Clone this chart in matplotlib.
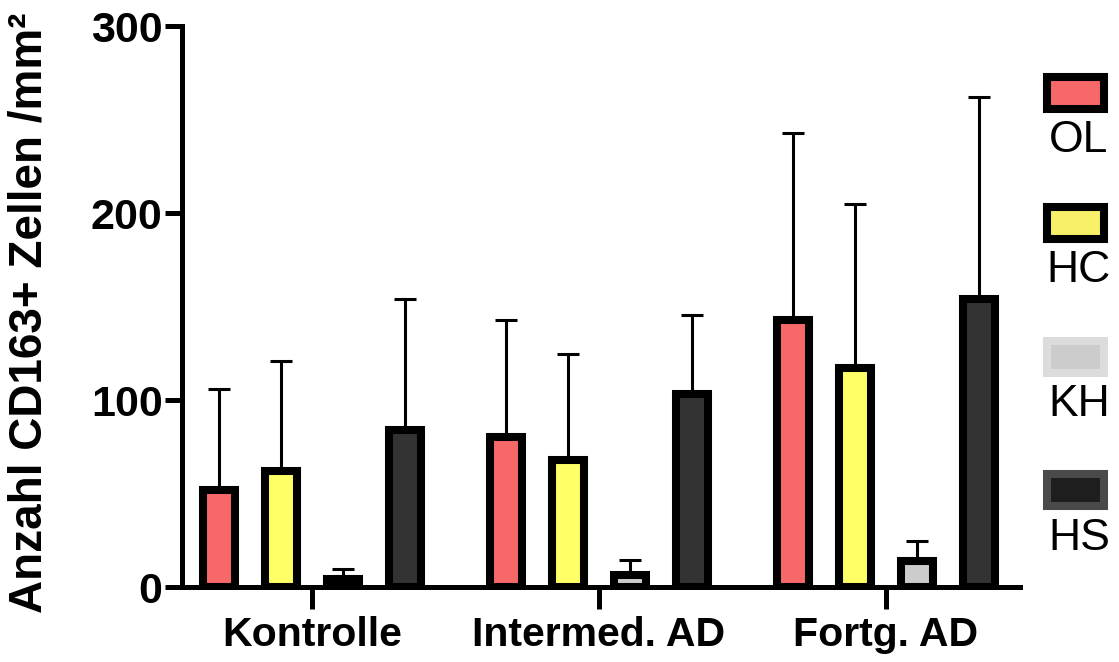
import matplotlib
matplotlib.use("Agg")
import matplotlib.pyplot as plt
from matplotlib.patches import Rectangle
import numpy as np

plt.rcParams['font.family'] = ['Liberation Sans', 'DejaVu Sans']

groups = ['Kontrolle', 'Intermed. AD', 'Fortg. AD']
series = ['OL', 'HC', 'KH', 'HS']
colors = ['#f76868', '#ffff66', '#cccccc', '#333333']
legend_fill = ['#f76868', '#f8f068', '#cccccc', '#1e1e1e']
legend_edge = ['#000000', '#000000', '#dcdcdc', '#4a4a4a']

# mean values per series (one per group)
ol_mean = [52, 80, 143]
hc_mean = [62, 68, 117]
kh_mean = [4.5, 6.5, 14]
hs_mean = [84, 103, 154]
# standard deviation (upper error only)
ol_sd = [54, 63, 100]
hc_sd = [59, 56.5, 88]
kh_sd = [5, 8, 10.5]
hs_sd = [70, 42.5, 108]

means = [ol_mean, hc_mean, kh_mean, hs_mean]
sds = [ol_sd, hc_sd, kh_sd, hs_sd]

fig = plt.figure(figsize=(11.19, 6.62), dpi=100)
ax = fig.add_axes([0.16265, 0.11329, 0.74888, 0.84743])

x = np.arange(len(groups))
offsets = [-0.324, -0.108, 0.108, 0.324]
width = 0.1115

for i in range(len(series)):
    xs = x + offsets[i]
    ax.errorbar(xs, means[i], yerr=[np.zeros(len(groups)), sds[i]], fmt='none',
                ecolor='black', elinewidth=2.2, capsize=8, capthick=2.2, zorder=1)
    ax.bar(xs, means[i], width, color=colors[i], edgecolor='black',
           linewidth=5.8, zorder=2)

ax.set_xlim(-0.453, 2.467)
ax.set_ylim(0, 300)
ax.set_yticks([0, 100, 200, 300])
ax.set_xticks(x)
ax.set_xticklabels(groups, fontsize=29.5, fontweight='bold')
for lab in ax.get_yticklabels():
    lab.set_fontsize(31)
    lab.set_fontweight('bold')

ax.spines['top'].set_visible(False)
ax.spines['right'].set_visible(False)
ax.spines['left'].set_linewidth(3.6)
ax.spines['bottom'].set_linewidth(3.6)
ax.tick_params(axis='y', width=3.6, length=12, pad=2)
ax.tick_params(axis='x', width=3.6, length=16, pad=5)

fig.text(30 / 1119, 1 - 313 / 662, 'Anzahl CD163+ Zellen /mm²', rotation=90,
         fontsize=33, fontweight='bold', ha='center', va='center')

# legend: patch with label underneath
W, H = 1119, 662
tops = [73, 203, 337, 470]
for i in range(len(series)):
    y0 = tops[i]
    rect = Rectangle(((1047) / W, 1 - (y0 + 36) / H), 57 / W, 32 / H,
                     transform=fig.transFigure, facecolor=legend_fill[i],
                     edgecolor=legend_edge[i], linewidth=5.8)
    fig.add_artist(rect)
    fig.text(1079 / W, 1 - (y0 + 68) / H, series[i], fontsize=32,
             ha='center', va='center')

fig.savefig('out.png', dpi=100)
